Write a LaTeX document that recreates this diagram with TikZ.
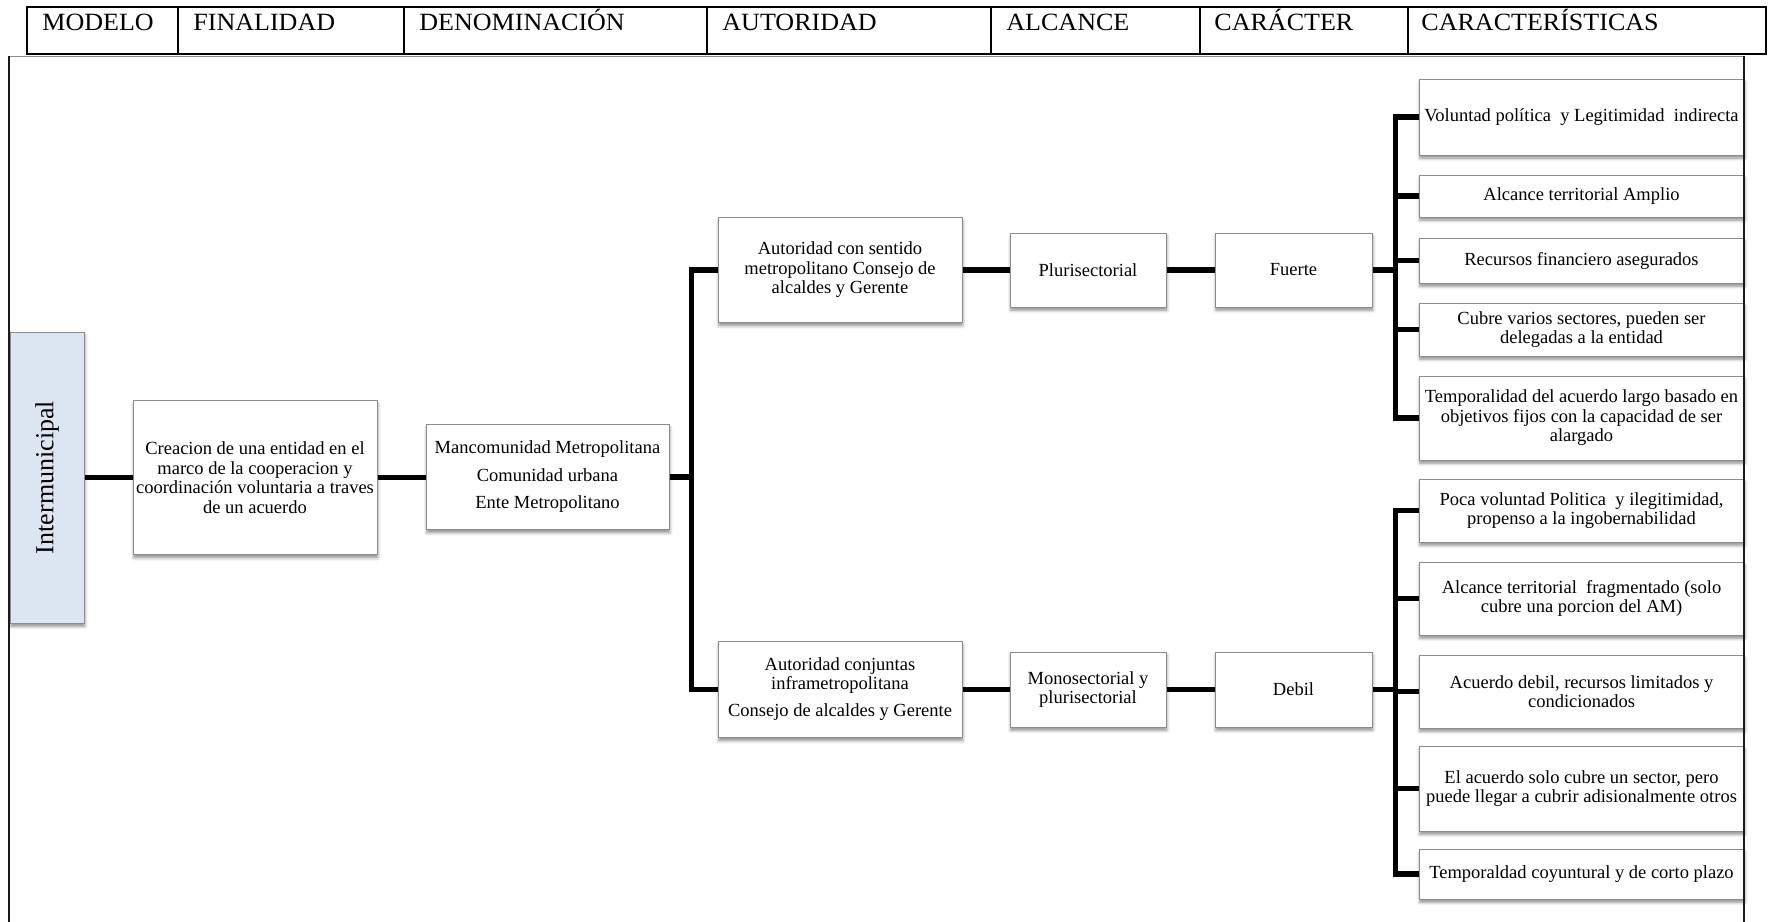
\documentclass[tikz,border=0pt]{standalone}
\usepackage{fontspec}
\usepackage{graphicx}
\setmainfont{Liberation Serif}
\newfontfamily\headfont{Liberation Serif}[FakeStretch=1.05]
\usetikzlibrary{shadows.blur}
\definecolor{interfill}{HTML}{DCE6F2}
\definecolor{boxline}{HTML}{8C8C8C}
\begin{document}
\begin{tikzpicture}[x=0.5pt,y=-0.5pt,
  box/.style={draw=boxline, line width=0.5pt, fill=white, inner sep=0pt, align=center,
    font=\fontsize{9.25}{9.75}\selectfont,
    blur shadow={shadow xshift=0.4pt, shadow yshift=-1.6pt, shadow blur radius=1.6pt, shadow opacity=45}},
  charbox/.style={box, minimum width=162.5pt},
  conn/.style={line width=2.9pt, line join=miter},
  head/.style={anchor=base west, inner sep=0pt, font=\headfont\fontsize{12.4}{14}\selectfont},
]
\useasboundingbox (0,0) rectangle (1770,921);

% header row with the column titles
\draw[line width=1pt] (27,7) rectangle (1766,54);
\draw[line width=1.3pt] (27,54) -- (1766,54);
\foreach \x in {178,404,707,991,1200,1408} \draw[line width=1pt] (\x,7) -- (\x,54);
\node[head] (hmod) at (42,31) {MODELO};
\node[head] (hfin) at (193,31) {FINALIDAD};
\node[head] (hden) at (419,31) {DENOMINACIÓN};
\node[head] (haut) at (722,31) {AUTORIDAD};
\node[head] (halc) at (1006,31) {ALCANCE};
\node[head] (hcar) at (1214,31) {CARÁCTER};
\node[head] (hcts) at (1421,31) {CARACTERÍSTICAS};

% main chain
\node[box, fill=interfill, minimum width=37pt, minimum height=145.5pt] (inter) at (47,477.5)
  {\fontsize{13}{15}\selectfont\rotatebox{90}{Intermunicipal}};
\node[box, minimum width=122pt, minimum height=77pt] (fin) at (255,477.5)
  {Creacion de una entidad en el\\marco de la cooperacion y\\coordinación voluntaria a traves\\de un acuerdo};
\node[box, minimum width=121.5pt, minimum height=52.5pt] (den) at (547.5,477)
  {Mancomunidad Metropolitana\\[4pt]Comunidad urbana\\[4pt]Ente Metropolitano};

% upper branch
\node[box, minimum width=122pt, minimum height=52.5pt] (aut1) at (840,270)
  {Autoridad con sentido\\metropolitano Consejo de\\alcaldes y Gerente};
\node[box, minimum width=78pt, minimum height=37pt] (alc1) at (1088,270) {Plurisectorial};
\node[box, minimum width=78.5pt, minimum height=37pt] (car1) at (1293.5,270) {Fuerte};

% lower branch
\node[box, minimum width=122pt, minimum height=48pt] (aut2) at (840,689.5)
  {Autoridad conjuntas\\[-0.5pt]inframetropolitana\\[4pt]Consejo de alcaldes y Gerente};
\node[box, minimum width=78pt, minimum height=37.5pt] (alc2) at (1088,689.5) {Monosectorial y\\plurisectorial};
\node[box, minimum width=78.5pt, minimum height=37.5pt] (car2) at (1293.5,689.5) {Debil};

% characteristics of the strong model
\node[charbox, minimum height=38pt] (c1) at (1581.5,117) {Voluntad política\ \ y Legitimidad\ \ indirecta};
\node[charbox, minimum height=21pt] (c2) at (1581.5,196) {Alcance territorial Amplio};
\node[charbox, minimum height=22.5pt] (c3) at (1581.5,260.5) {Recursos financiero asegurados};
\node[charbox, minimum height=26.5pt] (c4) at (1581.5,329.5) {Cubre varios sectores, pueden ser\\delegadas a la entidad};
\node[charbox, minimum height=42pt] (c5) at (1581.5,418) {Temporalidad del acuerdo largo basado en\\objetivos fijos con la capacidad de ser\\alargado};

% characteristics of the weak model
\node[charbox, minimum height=31.5pt] (c6) at (1581.5,510.5) {Poca voluntad Politica\ \ y ilegitimidad,\\propenso a la ingobernabilidad};
\node[charbox, minimum height=36.5pt] (c7) at (1581.5,598.5) {Alcance territorial\ \ fragmentado (solo\\cubre una porcion del AM)};
\node[charbox, minimum height=36.5pt] (c8) at (1581.5,691.5) {Acuerdo debil, recursos limitados y\\condicionados};
\node[charbox, minimum height=42.5pt] (c9) at (1581.5,788.5) {El acuerdo solo cubre un sector, pero\\puede llegar a cubrir adisionalmente otros};
\node[charbox, minimum height=25pt] (c10) at (1581.5,874) {Temporaldad coyuntural y de corto plazo};

% junction points of the connectors
\path (den.east) ++(22,0) coordinate (ja);
\path (car1.east) ++(23,0) coordinate (jf);
\path (car2.east) ++(23,0) coordinate (jd);

% connectors
\draw[conn] (inter.east) -- (inter.east -| fin.west);
\draw[conn] (fin.east) -- (fin.east -| den.west);
\draw[conn] (den.east) -- (ja);
\draw[conn] (aut1.west) -| (ja) |- (aut2.west);
\draw[conn] (aut1.east) -- (aut1.east -| alc1.west);
\draw[conn] (alc1.east) -- (alc1.east -| car1.west);
\draw[conn] (aut2.east) -- (aut2.east -| alc2.west);
\draw[conn] (alc2.east) -- (alc2.east -| car2.west);
\draw[conn] (car1.east) -- (jf);
\draw[conn] (car2.east) -- (jd);
\draw[conn] (c1.west) -| (jf) |- (c5.west);
\foreach \n in {c2,c3,c4} \draw[conn] (\n.west) -- (\n.west -| jf);
\draw[conn] (c6.west) -| (jd) |- (c10.west);
\foreach \n in {c7,c8,c9} \draw[conn] (\n.west) -- (\n.west -| jd);

% body frame, open at the bottom
\draw[boxline, line width=0.6pt] (9,56.5) -- (1744,56.5);
\draw[black!90, line width=1.2pt] (9,56) -- (9,930);
\draw[black!90, line width=1.2pt] (1744,56) -- (1744,930);
\end{tikzpicture}
\end{document}
